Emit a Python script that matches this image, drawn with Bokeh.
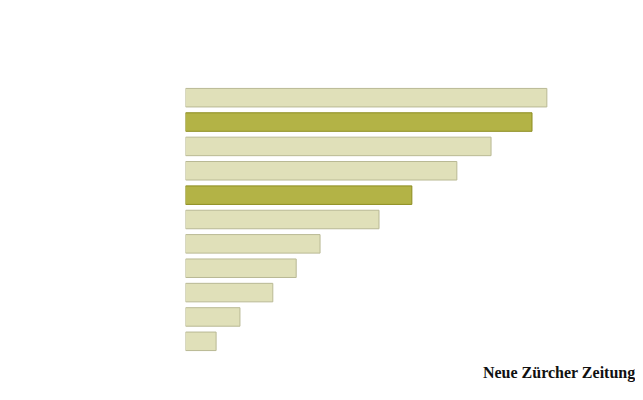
from bokeh.plotting import figure
from bokeh.models import Title, ColumnDataSource, FactorRange, Range1d
from bokeh.embed import file_html
from bokeh.resources import INLINE

categories = ["A", "B", "C", "D", "E", "F", "G", "H", "I", "J", "K"]
values = [80.3, 77.0, 67.9, 60.3, 50.3, 43.0, 29.9, 24.6, 19.4, 12.1, 6.8]
highlight = [False, True, False, False, True, False, False, False, False, False, False]

fill = ["#b3b346" if h else "#e0e0b9" for h in highlight]
line = ["#8c8c1e" if h else "#b9b994" for h in highlight]

src = ColumnDataSource(dict(cat=categories, val=values, fill=fill, line=line))

p = figure(width=635, height=392, output_backend="svg", toolbar_location=None,
           y_range=FactorRange(*reversed(categories), range_padding=0),
           x_range=Range1d(0, 100),
           min_border_left=185, min_border_right=0, min_border_top=85, min_border_bottom=39)
p.hbar(y="cat", right="val", left=0, height=0.76, source=src,
       fill_color="fill", line_color="line", line_width=1)

p.xaxis.visible = False
p.yaxis.visible = False
p.xgrid.visible = False
p.ygrid.visible = False
p.outline_line_color = None
p.background_fill_color = "white"
p.border_fill_color = "white"

p.add_layout(Title(text="Neue Zürcher Zeitung", align="right", text_font="Liberation Serif",
                   text_font_size="16px", text_font_style="bold", text_color="#111111",
                   standoff=16), "below")

open("out.html", "w").write(file_html(p, INLINE))
